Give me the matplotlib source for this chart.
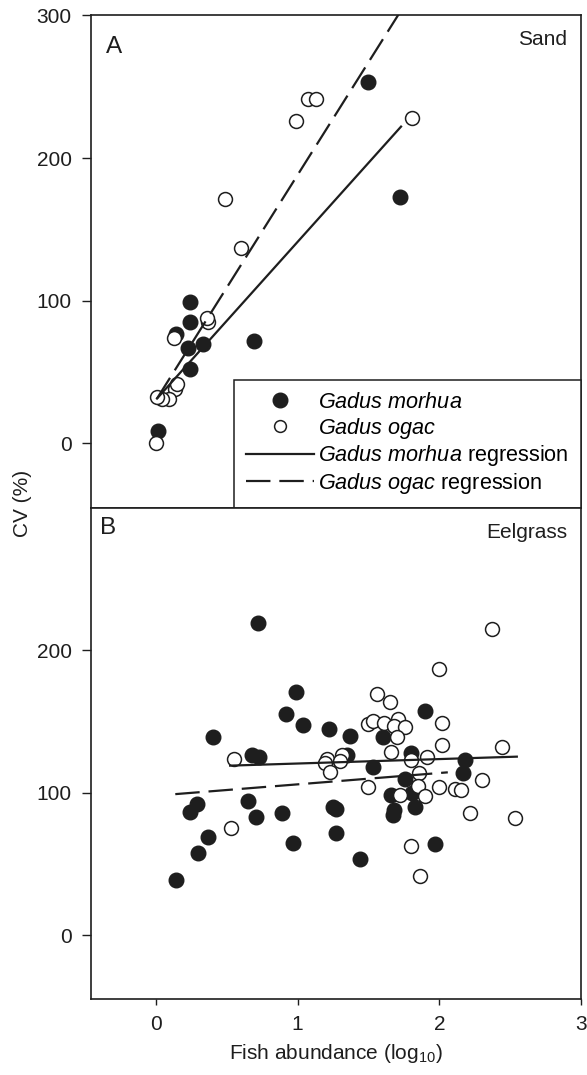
import matplotlib
matplotlib.use("Agg")
import matplotlib.pyplot as plt
from matplotlib.lines import Line2D

plt.rcParams["font.family"] = ["Liberation Sans", "DejaVu Sans"]
plt.rcParams["mathtext.fontset"] = "custom"
plt.rcParams["mathtext.rm"] = "Liberation Sans"
plt.rcParams["mathtext.it"] = "Liberation Sans:italic"

# Panel A - sand
sand_morhua_x = [1.50, 1.72, 0.69, 0.24, 0.24, 0.23, 0.33, 0.24, 0.015, 0.14]
sand_morhua_cv = [253, 173, 72, 99, 85, 67, 70, 52, 9, 77]
sand_ogac_x = [1.81, 0.99, 1.075, 1.13, 0.49, 0.60, 0.37, 0.36, 0.125,
               0.137, 0.149, 0.09, 0.044, 0.008, 0.0]
sand_ogac_cv = [228, 226, 241, 241, 171, 137, 85, 88, 74,
                38.5, 42, 31.5, 31.5, 32.7, 0]

# Panel B - eelgrass
eel_morhua_x = [0.72, 0.40, 0.99, 0.92, 1.04, 1.22, 1.37, 1.60, 1.90, 0.68,
                0.73, 1.35, 1.53, 1.80, 2.18, 2.17, 1.76, 1.66, 1.81, 1.83,
                1.68, 1.67, 0.29, 0.24, 0.65, 0.71, 0.89, 1.25, 1.27, 1.27,
                0.97, 0.37, 0.30, 0.14, 1.44, 1.97]
eel_morhua_cv = [219, 139, 171, 155, 147.5, 145, 140, 139, 157.5, 126.5,
                 125, 126.5, 118, 128, 123, 113.6, 109.4, 98.4, 99.6, 90,
                 88, 84.4, 92, 86.7, 94, 83, 85.5, 89.8, 88.4, 72,
                 64.5, 69, 58, 38.7, 53.3, 63.8]
eel_ogac_x = [2.37, 2.00, 1.56, 1.65, 2.02, 1.50, 1.53, 1.61, 1.71, 1.68,
              1.755, 1.70, 2.02, 2.44, 1.66, 0.55, 1.21, 1.19, 1.31, 1.30,
              1.23, 1.80, 1.91, 1.86, 1.85, 1.90, 1.72, 1.50, 2.00, 2.11,
              2.15, 2.30, 2.22, 2.535, 0.53, 1.80, 1.865]
eel_ogac_cv = [215, 187, 169, 164, 149, 148, 150, 149, 151.5, 147,
               146, 139, 133.5, 132, 128.4, 124, 124, 121, 126.5, 122.5,
               114.7, 123, 125.3, 114, 104.7, 97.7, 98.4, 104, 104, 102.4,
               102, 109, 86, 82, 75, 62.8, 41.8]

# regression line end points
sand_morhua_fit_x = [0.008, 1.73]
sand_morhua_fit_cv = [31.5, 222]
sand_ogac_fit_x = [0.008, 1.81]
sand_ogac_fit_cv = [31.5, 316]
eel_morhua_fit_x = [0.137, 2.06]
eel_morhua_fit_cv = [99, 114.3]
eel_ogac_fit_x = [0.524, 2.547]
eel_ogac_fit_cv = [119, 125.3]

ink = "#1e1e1e"
fs = 15
dash = (0, (11, 4))

fig = plt.figure(figsize=(5.87, 10.75), dpi=100)
axA = fig.add_axes([0.1545, 0.5277, 0.8353, 0.4581])
axB = fig.add_axes([0.1545, 0.0704, 0.8353, 0.4573])


def points(ax, mx, my, ox, oy):
    ax.plot(mx, my, "o", ms=10.5, mfc=ink, mec=ink, mew=1, zorder=3)
    ax.plot(ox, oy, "o", ms=10, mfc="white", mec=ink, mew=1.1, zorder=4)


points(axA, sand_morhua_x, sand_morhua_cv, sand_ogac_x, sand_ogac_cv)
axA.plot(sand_morhua_fit_x, sand_morhua_fit_cv, "-", color=ink, lw=1.6, zorder=5)
axA.plot(sand_ogac_fit_x, sand_ogac_fit_cv, color=ink, lw=1.6, ls=dash, zorder=5)

points(axB, eel_morhua_x, eel_morhua_cv, eel_ogac_x, eel_ogac_cv)
axB.plot(eel_ogac_fit_x, eel_ogac_fit_cv, "-", color=ink, lw=1.6, zorder=5)
axB.plot(eel_morhua_fit_x, eel_morhua_fit_cv, color=ink, lw=1.6, ls=dash, zorder=5)

for ax in (axA, axB):
    ax.set_xlim(-0.46, 3)
    ax.set_ylim(-45, 300)
    for s in ax.spines.values():
        s.set_linewidth(1.2)
        s.set_color(ink)
    ax.tick_params(axis="y", direction="out", length=6.7, width=1, pad=7,
                   labelsize=fs, colors=ink)
    ax.tick_params(axis="x", direction="out", length=4, width=1, pad=7,
                   labelsize=fs, colors=ink)

axA.set_yticks([0, 100, 200, 300])
axA.set_xticks([])
axB.set_yticks([0, 100, 200])
axB.set_xticks([0, 1, 2, 3])
axB.set_xlabel("Fish abundance (log$_{10}$)", fontsize=fs, labelpad=6, color=ink)

axA.text(0.031, 0.923, "A", transform=axA.transAxes, fontsize=17.5, va="baseline", color=ink)
axB.text(0.020, 0.9465, "B", transform=axB.transAxes, fontsize=17.5, va="baseline", color=ink)
axA.text(0.972, 0.94, "Sand", transform=axA.transAxes, fontsize=fs,
         ha="right", va="baseline", color=ink)
axB.text(0.972, 0.938, "Eelgrass", transform=axB.transAxes, fontsize=fs,
         ha="right", va="baseline", color=ink)

fig.text(0.0375, 0.532, "CV (%)", rotation=90, fontsize=fs, ha="center", va="center", color=ink)

handles = [
    Line2D([], [], ls="none", marker="o", ms=10.5, mfc=ink, mec=ink),
    Line2D([], [], ls="none", marker="o", ms=8.5, mfc="white", mec=ink, mew=1.1),
    Line2D([], [], color=ink, lw=1.6),
    Line2D([], [], color=ink, lw=1.6, ls=dash),
]
labels = [
    r"$\mathit{Gadus\ morhua}$",
    r"$\mathit{Gadus\ ogac}$",
    r"$\mathit{Gadus\ morhua}$ regression",
    r"$\mathit{Gadus\ ogac}$ regression",
]
leg = axA.legend(handles, labels, loc="lower right", bbox_to_anchor=(1, 0),
                 borderaxespad=0, fontsize=15.6, frameon=True, fancybox=False,
                 framealpha=1, edgecolor=ink, handlelength=3.15,
                 handletextpad=0.2, labelspacing=0.12, borderpad=0.55)
leg.get_frame().set_linewidth(1.1)
leg.set_zorder(10)

fig.savefig("out.png", dpi=100)
